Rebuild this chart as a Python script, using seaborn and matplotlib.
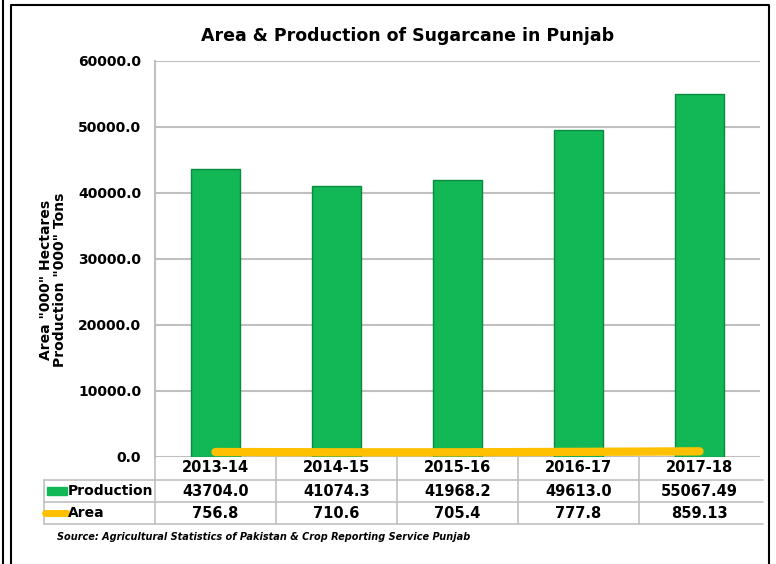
import matplotlib
matplotlib.use("Agg")
import matplotlib.pyplot as plt
import seaborn as sns
import pandas as pd
from matplotlib.lines import Line2D
from matplotlib.patches import Rectangle

years = ["2013-14", "2014-15", "2015-16", "2016-17", "2017-18"]
production = [43704.0, 41074.3, 41968.2, 49613.0, 55067.49]
area = [756.8, 710.6, 705.4, 777.8, 859.13]
production_labels = ["43704.0", "41074.3", "41968.2", "49613.0", "55067.49"]
area_labels = ["756.8", "710.6", "705.4", "777.8", "859.13"]

green = "#12b856"
yellow = "#ffc000"
grid_gray = "#c0c0c0"

sns.set_style("white")
plt.rcParams["font.family"] = ["DejaVu Sans"]
plt.rcParams["text.color"] = "black"
plt.rcParams["ytick.labelcolor"] = "black"

df = pd.DataFrame({"Year": years, "Production": production, "Area": area})

fig = plt.figure(figsize=(7.76, 5.64), dpi=100)
ax = fig.add_axes([155/776, 1-457/564, 605/776, 396/564])

sns.barplot(data=df, x="Year", y="Production", color=green, width=0.4,
            edgecolor="#0a8a3e", linewidth=1, saturation=1, ax=ax, zorder=3)
ax.plot(range(len(years)), df["Area"], color=yellow, lw=6,
        solid_capstyle="round", zorder=4)

ax.set_xlim(-0.5, 4.5)
ax.set_ylim(0, 60000)
ax.set_yticks(range(0, 60001, 10000))
ax.set_yticklabels([f"{v:.1f}" for v in range(0, 60001, 10000)],
                   fontsize=10, fontweight="bold", color="black")
ax.yaxis.grid(True, color=grid_gray, lw=1.5, zorder=0)
ax.set_axisbelow(True)
ax.tick_params(axis="y", length=6, width=1, color=grid_gray, pad=4)
ax.tick_params(axis="x", length=0, labelbottom=False)
for s in ["top", "right", "bottom"]:
    ax.spines[s].set_visible(False)
ax.spines["left"].set_color(grid_gray)
ax.spines["left"].set_linewidth(1.5)
ax.set_xlabel("")
ax.set_ylabel("")

# data table under the axis
def ay(py):
    return (457 - py) / 396

def axx(px):
    return (px - 155) / 605

bx = ax.get_xaxis_transform()
tbl = dict(fontsize=10.5, fontweight="bold", ha="center", va="center",
           clip_on=False, color="black")
for i in range(len(years)):
    ax.text(i, ay(468), years[i], transform=bx, **tbl)
    ax.text(i, ay(491), production_labels[i], transform=bx, **tbl)
    ax.text(i, ay(513), area_labels[i], transform=bx, **tbl)

lc = dict(color=grid_gray, lw=1.2, clip_on=False)
for yy in [480, 502, 524]:
    ax.plot([axx(44), axx(763)], [ay(yy), ay(yy)], transform=ax.transAxes, **lc)
ax.plot([axx(44), axx(44)], [ay(480), ay(524)], transform=ax.transAxes, **lc)
ax.plot([0, 0], [ay(457), ay(524)], transform=ax.transAxes, **lc)
for i in range(len(years) - 1):
    ax.plot([i + 0.5, i + 0.5], [ay(457), ay(524)], transform=bx, **lc)

# row labels with legend keys
ax.add_patch(Rectangle((axx(47), ay(495)), axx(67) - axx(47), ay(487) - ay(495),
                       transform=ax.transAxes, color=green, clip_on=False))
ax.plot([axx(45), axx(67)], [ay(513), ay(513)], transform=ax.transAxes,
        color=yellow, lw=5, clip_on=False)
ax.text(axx(68), ay(491), "Production", transform=ax.transAxes, fontsize=10,
        fontweight="bold", ha="left", va="center", color="black")
ax.text(axx(68), ay(513), "Area", transform=ax.transAxes, fontsize=10,
        fontweight="bold", ha="left", va="center", color="black")

fig.text(57/776, 1-537/564, "Source: Agricultural Statistics of Pakistan & Crop Reporting Service Punjab",
         fontsize=7, fontstyle="italic", fontweight="bold", ha="left", va="center")

fig.text(408/776, 1-36/564, "Area & Production of Sugarcane in Punjab",
         fontsize=12.5, fontweight="bold", ha="center", va="center")
fig.text(53/776, 1-280/564, 'Area "000" Hectares\nProduction "000" Tons',
         fontsize=10, fontweight="bold", rotation=90, ha="center", va="center",
         linespacing=1.0)

# outer frame
fig.add_artist(Line2D([3/776, 3/776], [0, 1], color="black", lw=1.5))
fig.add_artist(Line2D([11/776, 11/776, 769/776, 769/776], [0, 1-5/564, 1-5/564, 0],
                      color="black", lw=1.5))

fig.savefig("out.png", dpi=100)
